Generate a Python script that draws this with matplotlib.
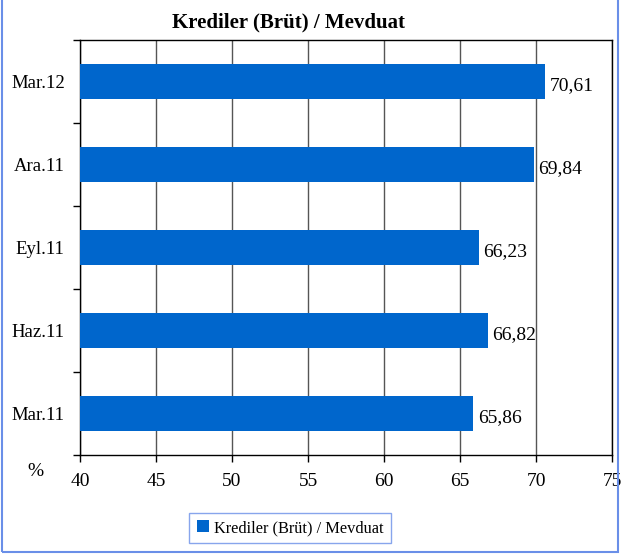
import matplotlib
matplotlib.use('Agg')
import matplotlib.pyplot as plt
from matplotlib.patches import Rectangle
import numpy as np

plt.rcParams['font.family'] = ['Liberation Serif', 'DejaVu Serif']

# data
categories = ['Mar.11', 'Haz.11', 'Eyl.11', 'Ara.11', 'Mar.12']
values = [65.86, 66.82, 66.23, 69.84, 70.61]
value_labels = ['65,86', '66,82', '66,23', '69,84', '70,61']
x_ticks = [40, 45, 50, 55, 60, 65, 70, 75]

bar_color = '#0066CC'
frame_color = '#6A8FE8'

fig = plt.figure(figsize=(6.21, 5.56), dpi=100)
ax = fig.add_axes([80 / 621, 1 - 455 / 556, 532 / 621, 415 / 556])

y = np.arange(len(categories))
ax.barh(y, np.array(values) - 40, left=40, height=0.41, color=bar_color,
        label='Krediler (Brüt) / Mevduat', zorder=3)

for yi, v, lab in zip(y, values, value_labels):
    ax.text(v + 0.3, yi - 0.05, lab, ha='left', va='center', fontsize=14, zorder=4)

ax.set_xlim(40, 75)
ax.set_ylim(-0.5, len(categories) - 0.5)
ax.set_xticks(x_ticks)
ax.set_xticklabels([str(t) for t in x_ticks], fontsize=14)
ax.set_yticks(y)
ax.set_yticklabels(categories, fontsize=13.5)
ax.tick_params(axis='y', length=0, pad=11)
ax.set_yticks(np.arange(-0.5, len(categories)), minor=True)
ax.tick_params(axis='y', which='minor', length=5, width=1, direction='out')
ax.tick_params(axis='x', length=5, width=1, direction='out', pad=8)

ax.grid(axis='x', color='#555555', linewidth=1, zorder=1)
for s in ax.spines.values():
    s.set_color('black')
    s.set_linewidth(1)

fig.text(289 / 621, 1 - 22 / 556, 'Krediler (Brüt) / Mevduat', fontsize=15,
         fontweight='bold', ha='center', va='center')
fig.text(35 / 621, 1 - 472 / 556, '%', fontsize=14, ha='center', va='center')

leg = fig.legend(loc='center', bbox_to_anchor=(290 / 621, 1 - 528 / 556),
                 fontsize=11.8, frameon=True, fancybox=False,
                 handlelength=0.75, handleheight=0.75, handletextpad=0.3,
                 borderpad=0.45)
leg.get_frame().set_edgecolor(frame_color)
leg.get_frame().set_linewidth(1)

# outer chart frame
fig.patches.append(Rectangle((2 / 621, 4 / 556), 616 / 621, 560 / 556,
                             transform=fig.transFigure, fill=False,
                             edgecolor=frame_color, linewidth=1.5))

fig.savefig('out.png', dpi=100)
